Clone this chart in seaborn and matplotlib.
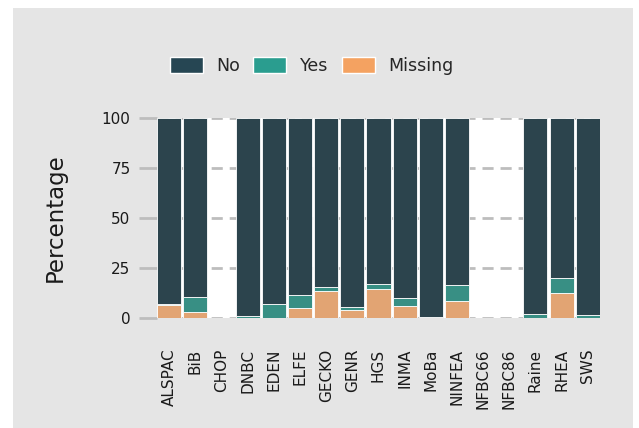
import matplotlib
matplotlib.use("Agg")
import numpy as np
import pandas as pd
import matplotlib.pyplot as plt
import seaborn as sns
from matplotlib.patches import Rectangle, Patch

# Percentage per cohort
cohorts = ["ALSPAC", "BiB", "CHOP", "DNBC", "EDEN", "ELFE", "GECKO", "GENR", "HGS",
           "INMA", "MoBa", "NINFEA", "NFBC66", "NFBC86", "Raine", "RHEA", "SWS"]
missing = [6.5, 3.0, 0, 0, 0, 5.0, 13.3, 4.0, 14.3, 6.0, 0, 8.7, 0, 0, 0, 12.7, 0]
yes = [0.5, 7.5, 0, 1.0, 7.0, 6.7, 2.3, 1.4, 2.7, 4.0, 0.7, 7.8, 0, 0, 2.2, 7.3, 1.5]
has_data = [1, 1, 0, 1, 1, 1, 1, 1, 1, 1, 1, 1, 0, 0, 1, 1, 1]

df = pd.DataFrame({"cohort": cohorts, "Missing": missing, "Yes": yes})
df["No"] = np.where(np.array(has_data) == 1, 100 - df["Missing"] - df["Yes"], 0)

colors = {"No": "#264653", "Yes": "#2a9d8f", "Missing": "#f4a261"}

sns.set_theme(style="white")
plt.rcParams["font.family"] = ["DejaVu Sans"]

fig = plt.figure(figsize=(6.39, 4.28), dpi=100, facecolor="white")
bg = Rectangle((13 / 639, 0), 620 / 639, 420 / 428, transform=fig.transFigure,
               facecolor="#e5e5e5", edgecolor="none", zorder=-10)
fig.add_artist(bg)
ax = fig.add_axes([157 / 639, 1 - 318 / 428, 443 / 639, 200 / 428])
ax.set_facecolor("white")

# stacked bars: Missing at the bottom, then Yes, then No
bottom = np.zeros(len(df))
for col in ["Missing", "Yes", "No"]:
    sns.barplot(data=df, x="cohort", y=col, color=colors[col], bottom=bottom,
                width=0.92, edgecolor="white", linewidth=0.6, ax=ax, zorder=3)
    bottom = bottom + df[col].values

ax.set_xlim(-0.47, len(df) - 0.53)
ax.set_ylim(0, 100)
ax.set_yticks([0, 25, 50, 75, 100])
ax.yaxis.grid(True, linestyle=(0, (4, 2.5)), color="#bdbdbd", linewidth=2)
ax.set_axisbelow(True)
for s in ax.spines.values():
    s.set_visible(False)
ax.tick_params(axis="y", left=True, length=13, width=2, color="#bdbdbd",
               labelsize=11, pad=6, labelcolor="#1a1a1a")
ax.tick_params(axis="x", bottom=False, length=0, labelsize=11, pad=22, labelcolor="#1a1a1a")
plt.setp(ax.get_xticklabels(), rotation=90)
ax.set_xlabel("")
ax.set_ylabel("Percentage", fontsize=16.5, labelpad=25, color="#1a1a1a")

handles = [Patch(facecolor=colors[k], edgecolor="white", label=k) for k in ["No", "Yes", "Missing"]]
fig.legend(handles=handles, loc="center left", bbox_to_anchor=(154 / 639, 1 - 66 / 428),
           ncol=3, frameon=False, fontsize=12.5, handlelength=1.9, handleheight=1.0,
           columnspacing=0.75, handletextpad=0.8)

fig.savefig("out.png", dpi=100, facecolor=fig.get_facecolor())
